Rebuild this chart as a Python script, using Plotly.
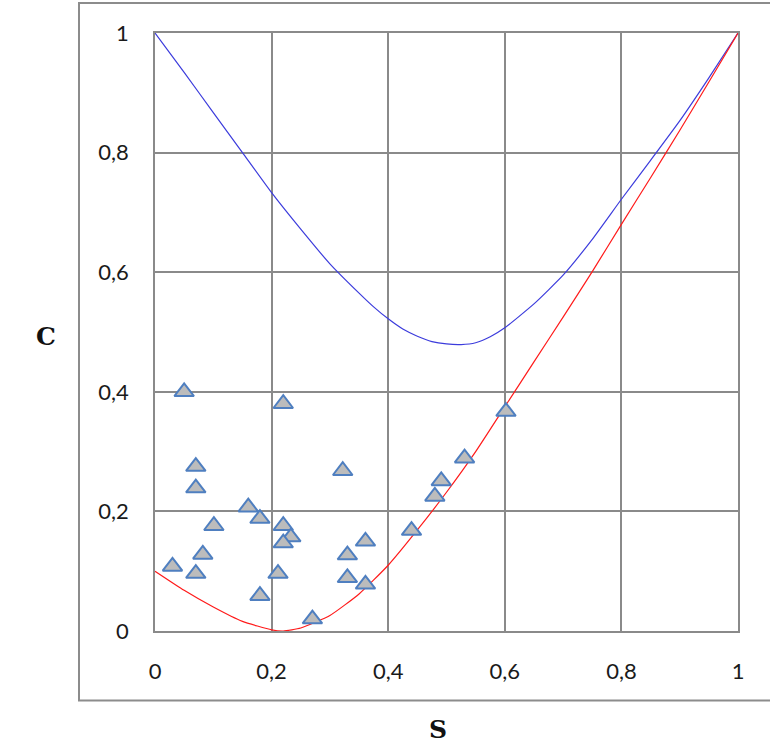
import plotly.graph_objects as go

# Upper (blue) curve
blue_s = [0, 0.05, 0.1, 0.15, 0.2, 0.25, 0.3, 0.35, 0.375, 0.4, 0.425, 0.45, 0.475, 0.5, 0.525, 0.55, 0.575, 0.6, 0.65, 0.7, 0.75, 0.8, 0.85, 0.9, 0.95, 1]
blue_c = [1.0, 0.934, 0.867, 0.800, 0.733, 0.672, 0.614, 0.565, 0.542, 0.522, 0.505, 0.493, 0.484, 0.480, 0.479, 0.482, 0.492, 0.507, 0.547, 0.595, 0.655, 0.722, 0.787, 0.853, 0.925, 1.0]

# Lower (red) curve
red_s = [0, 0.05, 0.1, 0.15, 0.2, 0.22, 0.25, 0.3, 0.35, 0.4, 0.45, 0.5, 0.55, 0.6, 0.65, 0.7, 0.75, 0.8, 0.85, 0.9, 0.95, 1]
red_c = [0.10, 0.068, 0.040, 0.016, 0.002, 0.0, 0.005, 0.026, 0.062, 0.110, 0.169, 0.232, 0.300, 0.375, 0.450, 0.525, 0.601, 0.680, 0.758, 0.837, 0.918, 1.0]

# Observed points (triangles)
pts_s = [0.050, 0.220, 0.070, 0.070, 0.322, 0.160, 0.180, 0.101, 0.220, 0.233, 0.220, 0.361, 0.082,
         0.330, 0.030, 0.070, 0.211, 0.330, 0.361, 0.180, 0.270, 0.440, 0.480, 0.491, 0.531, 0.602]
pts_c = [0.400, 0.380, 0.275, 0.239, 0.268, 0.207, 0.188, 0.176, 0.176, 0.157, 0.147, 0.150, 0.128,
         0.127, 0.108, 0.096, 0.096, 0.089, 0.078, 0.059, 0.020, 0.168, 0.225, 0.251, 0.289, 0.367]

tick_vals = [0, 0.2, 0.4, 0.6, 0.8, 1]
tick_text = ["0", "0,2", "0,4", "0,6", "0,8", "1"]

GRID = "#8a8a8a"

fig = go.Figure()
fig.add_trace(go.Scatter(x=blue_s, y=blue_c, mode="lines", line=dict(color="#3c3cdc", width=1.2, shape="spline", smoothing=0.5), hoverinfo="skip"))
fig.add_trace(go.Scatter(x=red_s, y=red_c, mode="lines", line=dict(color="#ff1a1a", width=1.2, shape="spline", smoothing=0.5), hoverinfo="skip"))
fig.add_trace(go.Scatter(x=pts_s, y=pts_c, mode="markers",
                         marker=dict(symbol="triangle-up", size=17, color="#bcbcbc",
                                     line=dict(color="#4f7fc0", width=2))))

axis_common = dict(
    range=[0, 1], tickvals=tick_vals, ticktext=tick_text,
    showgrid=True, gridcolor=GRID, gridwidth=1.7,
    showline=True, linecolor=GRID, linewidth=1.7, mirror=True,
    zeroline=False, ticks="", ticklabelstandoff=20,
    tickfont=dict(family="Lato", size=22, color="#1a1a1a"),
    fixedrange=True,
)

title_font = dict(family="DejaVu Serif", size=25, color="#111111", weight="bold")

fig.update_layout(
    width=770, height=749,
    margin=dict(l=155, r=32, t=33, b=117.5),
    paper_bgcolor="white", plot_bgcolor="white",
    showlegend=False,
    xaxis=axis_common,
    yaxis=axis_common,
    shapes=[dict(type="rect", xref="paper", yref="paper",
                 x0=(79 - 155) / 583, x1=(780 - 155) / 583,
                 y0=(631.5 - 701) / 598.5, y1=(631.5 - 3) / 598.5,
                 line=dict(color="#8c8c8c", width=2), layer="below")],
    annotations=[
        dict(text="C", xref="paper", yref="paper",
             x=(46 - 155) / 583, y=(631.5 - 337) / 598.5,
             xanchor="center", yanchor="middle",
             showarrow=False, font=title_font),
        dict(text="S", xref="paper", yref="paper",
             x=(438 - 155) / 583, y=(631.5 - 730) / 598.5,
             xanchor="center", yanchor="middle",
             showarrow=False, font=title_font),
    ],
)

fig.write_html("out.html")
